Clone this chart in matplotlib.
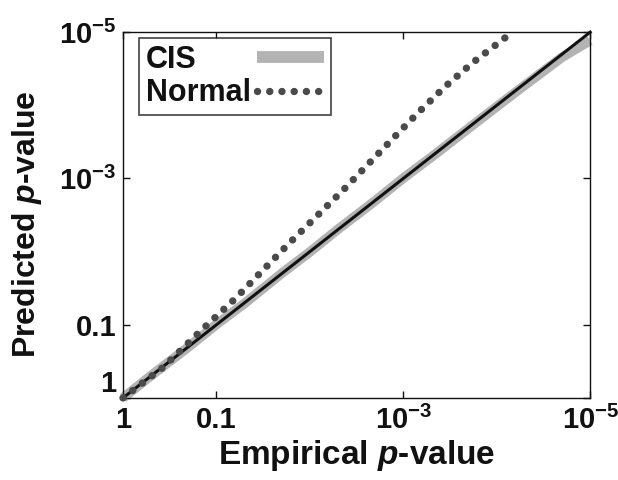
import matplotlib
matplotlib.use("Agg")
import matplotlib.pyplot as plt
from matplotlib.lines import Line2D

# ---- data ----
# CIS: empirical vs predicted p-values (close to diagonal)
cis_emp = [1, 0.5, 0.2, 0.1, 0.05, 0.02, 0.01, 5e-3, 2e-3, 1e-3, 5e-4, 2e-4, 1e-4, 5e-5, 2e-5, 1e-5]
cis_pred = [1, 0.495, 0.202, 0.099, 0.051, 0.0198, 0.0101, 4.95e-3, 2.02e-3, 0.99e-3, 5.1e-4, 2.06e-4,
            1.04e-4, 5.3e-5, 2.2e-5, 1.3e-5]
# Normal approximation
normal_emp = [1, 0.37, 0.155, 0.063, 0.017, 4.3e-3, 1.1e-3, 7.1e-4, 3.6e-4, 1.8e-4, 6.8e-5]
normal_pred = [1, 0.38, 0.129, 0.044, 7.9e-3, 1.4e-3, 2.3e-4, 1.3e-4, 5.6e-5, 2.6e-5, 1e-5]
# reference diagonal
diag = [1, 1e-5]

tick_vals = [1, 0.1, 1e-3, 1e-5]
tick_labels = ["1", "0.1", r"$10^{-3}$", r"$10^{-5}$"]

plt.rcParams["font.family"] = ["Liberation Sans", "DejaVu Sans"]
plt.rcParams["font.weight"] = "bold"
plt.rcParams["mathtext.fontset"] = "custom"
plt.rcParams["mathtext.rm"] = "Liberation Sans:bold"
plt.rcParams["mathtext.bf"] = "Liberation Sans:bold"
plt.rcParams["mathtext.it"] = "Liberation Sans:bold:italic"

fig = plt.figure(figsize=(6.18, 4.80), dpi=100)
ax = fig.add_axes([0.199, 0.171, 0.756, 0.762])

cis_color = "#b3b3b3"
norm_color = "#4a4a4a"
dot_style = (0, (0.01, 1.65))

ax.plot(cis_emp, cis_pred, color=cis_color, lw=7, solid_capstyle="butt",
        clip_on=False, zorder=2)
ax.plot(diag, diag, color="#111111", lw=2.2, clip_on=False, zorder=3)
ax.plot(normal_emp, normal_pred, color=norm_color, lw=5.3,
        linestyle=dot_style, dash_capstyle="round", clip_on=False, zorder=4)

ax.set_xscale("log")
ax.set_yscale("log")
ax.set_xlim(1, 1e-5)
ax.set_ylim(1, 1e-5)
ax.set_xticks(tick_vals)
ax.set_xticklabels(tick_labels)
ax.set_yticks(tick_vals)
ax.set_yticklabels(tick_labels)
ax.minorticks_off()
ax.tick_params(which="both", direction="in", length=5, width=1, top=True, right=True,
               labelsize=21, colors="#111111")
ax.tick_params(axis="x", pad=6)
ax.tick_params(axis="y", pad=5)
for s in ax.spines.values():
    s.set_linewidth(1)
    s.set_color("#111111")

for lbl in ax.get_yticklabels():
    if lbl.get_text() == "1":
        lbl.set_va("bottom")

ax.set_xlabel(r"Empirical $p$-value", fontsize=24, fontweight="bold", labelpad=2, color="#111111")
ax.set_ylabel(r"Predicted $p$-value", fontsize=23, fontweight="bold", color="#111111")
ax.yaxis.set_label_coords(-0.17, 0.475)

handles = [Line2D([], [], color=cis_color, lw=8.5, solid_capstyle="butt"),
           Line2D([], [], color=norm_color, lw=5.3, linestyle=dot_style, dash_capstyle="round")]
leg = ax.legend(handles, ["CIS", "Normal"], loc="upper left", bbox_to_anchor=(0.034, 0.984),
                fontsize=22, markerfirst=False, frameon=True, fancybox=False, handlelength=2.2,
                handletextpad=0.2, borderpad=0.22, labelspacing=0.12, borderaxespad=0)
leg.get_frame().set_edgecolor("#111111")
leg.get_frame().set_linewidth(1.2)
for t in leg.get_texts():
    t.set_color("#111111")

# left-align the legend texts (MATLAB style) while keeping handles on the right
fig.canvas.draw()
renderer = fig.canvas.get_renderer()
try:
    col = leg._legend_handle_box.get_children()[0]
    rows = col.get_children()
    widths = [t.get_window_extent(renderer).width for t in leg.get_texts()]
    maxw = max(widths)
    for row, w in zip(rows, widths):
        row.sep += (maxw - w) * 72.0 / fig.dpi
except Exception:
    pass

fig.savefig("out.png", dpi=100)
